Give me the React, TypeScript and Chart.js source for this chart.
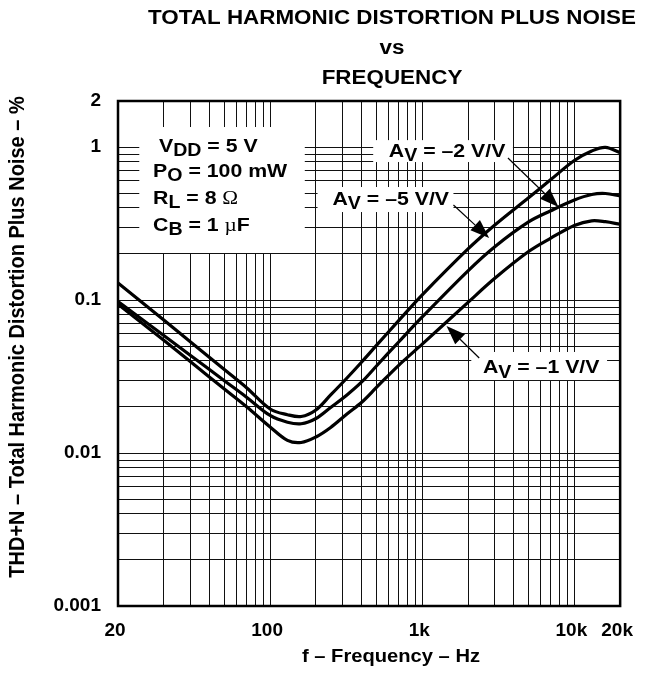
import { useEffect, useRef } from 'react';
import { Chart, registerables } from 'chart.js';

Chart.register(...registerables);

// ---- data ----
const frequencies = [10, 20, 30, 50, 70, 100, 130, 160, 200, 250, 320, 400, 500, 700, 1000, 2000, 3000, 5000, 7000, 10000, 13000, 16000, 20000];
const thdAvMinus5 = [0.1293, 0.074, 0.0532, 0.0351, 0.0267, 0.0194, 0.0178, 0.01733, 0.01912, 0.02396, 0.03094, 0.03936, 0.05053, 0.0733, 0.1081, 0.2157, 0.3094, 0.466, 0.6127, 0.8168, 0.9423, 0.9963, 0.9186];
const thdAvMinus2 = [0.0977, 0.05857, 0.04341, 0.02971, 0.02318, 0.0176, 0.0159, 0.01553, 0.01681, 0.01985, 0.02396, 0.02913, 0.03707, 0.0532, 0.0775, 0.1553, 0.2232, 0.3242, 0.3837, 0.4507, 0.4896, 0.497, 0.4787];
const thdAvMinus1 = [0.0938, 0.05458, 0.03948, 0.02621, 0.02006, 0.0148, 0.0121, 0.01172, 0.01273, 0.01469, 0.018, 0.02147, 0.02683, 0.03745, 0.05146, 0.09654, 0.1387, 0.2074, 0.2537, 0.3072, 0.3296, 0.3251, 0.3127];

// ---- axes ----
const xMin = 10;
const xMax = 20000;
const yMin = 0.001;
const yMax = 2;
const xTickValues = [10, 100, 1000, 10000, 20000];
const xTickLabels = ['20', '100', '1k', '10k', '20k'];
const yTickValues = [0.001, 0.01, 0.1, 1, 2];
const yTickLabels = ['0.001', '0.01', '0.1', '1', '2'];
const xGridDecades = [10, 100, 1000, 10000];
const yGridDecades = [0.001, 0.01, 0.1, 1];
const gridMultipliers = [1, 2, 3, 4, 5, 6, 7, 8, 9];

const titleLines = ['TOTAL HARMONIC DISTORTION PLUS NOISE', 'vs', 'FREQUENCY'];
const xAxisTitle = 'f – Frequency – Hz';
const yAxisTitle = 'THD+N – Total Harmonic Distortion Plus Noise – %';

// ---- annotations (anchored in data coordinates) ----
type Part = { t: string; sub?: boolean; serif?: boolean };
const conditionsBox = { x0: 13.8, x1: 169, y0: 1.352, y1: 0.203 };
const conditionLines: { x: number; y: number; parts: Part[] }[] = [
  { x: 18.6, y: 1.03, parts: [{ t: 'V' }, { t: 'DD', sub: true }, { t: ' = 5 V' }] },
  { x: 17.0, y: 0.708, parts: [{ t: 'P' }, { t: 'O', sub: true }, { t: ' = 100 mW' }] },
  { x: 17.0, y: 0.472, parts: [{ t: 'R' }, { t: 'L', sub: true }, { t: ' = 8 ' }, { t: 'Ω', serif: true }] },
  { x: 17.0, y: 0.314, parts: [{ t: 'C' }, { t: 'B', sub: true }, { t: ' = 1 ' }, { t: 'µ', serif: true }, { t: 'F' }] },
];
const gainLabels = [
  { gain: '–2', box: [476, 3945, 1.11, 0.798], text: [603, 0.957], from: [3660, 0.848], to: [7870, 0.406] },
  { gain: '–5', box: [205, 1604, 0.548, 0.376], text: [257, 0.4645], from: [1604, 0.418], to: [2753, 0.2543] },
  { gain: '–1', box: [2101, 16406, 0.04576, 0.03], text: [2504, 0.03667], from: [2369, 0.0418], to: [1444, 0.0677] },
];

const SANS = '"Liberation Sans", Arial, Helvetica, sans-serif';
const SERIF = '"Liberation Serif", "Times New Roman", serif';
const STRETCH = 1.12;

function buildGrid(decades: number[], max: number) {
  const out: number[] = [];
  decades.forEach((d) => gridMultipliers.forEach((m) => {
    const v = m * d;
    if (v <= max * 1.000001) out.push(v);
  }));
  if (!out.some((v) => Math.abs(v - max) / max < 1e-6)) out.push(max);
  return out;
}

function labelFor(v: number, values: number[], labels: string[]) {
  const i = values.findIndex((t) => Math.abs(v - t) / t < 1e-6);
  return i >= 0 ? labels[i] : '';
}

function drawRich(ctx: CanvasRenderingContext2D, parts: Part[], x: number, y: number, size: number) {
  ctx.save();
  ctx.translate(x, y);
  ctx.scale(STRETCH, 1);
  ctx.textAlign = 'left';
  ctx.textBaseline = 'alphabetic';
  ctx.fillStyle = '#000';
  let cx = 0;
  const base = size * 0.358;
  for (const p of parts) {
    const fs = p.sub ? size * 0.92 : size;
    ctx.font = p.serif ? `${size}px ${SERIF}` : `bold ${fs}px ${SANS}`;
    ctx.fillText(p.t, cx, base + (p.sub ? size * 0.24 : 0));
    cx += ctx.measureText(p.t).width;
  }
  ctx.restore();
}

function drawArrow(ctx: CanvasRenderingContext2D, x0: number, y0: number, x1: number, y1: number) {
  const ang = Math.atan2(y1 - y0, x1 - x0);
  const len = 19;
  const hw = 7;
  const bx = x1 - len * Math.cos(ang);
  const by = y1 - len * Math.sin(ang);
  ctx.save();
  ctx.strokeStyle = '#000';
  ctx.lineWidth = 1.2;
  ctx.beginPath();
  ctx.moveTo(x0, y0);
  ctx.lineTo(bx, by);
  ctx.stroke();
  ctx.fillStyle = '#000';
  ctx.beginPath();
  ctx.moveTo(x1, y1);
  ctx.lineTo(bx + hw * Math.sin(ang), by - hw * Math.cos(ang));
  ctx.lineTo(bx - hw * Math.sin(ang), by + hw * Math.cos(ang));
  ctx.closePath();
  ctx.fill();
  ctx.restore();
}

const decorPlugin = {
  id: 'decor',
  beforeDatasetsDraw(chart: any) {
    const ctx: CanvasRenderingContext2D = chart.ctx;
    const xs = chart.scales.x;
    const ys = chart.scales.y;
    const px = (v: number) => xs.getPixelForValue(v);
    const py = (v: number) => ys.getPixelForValue(v);
    ctx.save();
    ctx.fillStyle = '#fff';
    ctx.fillRect(px(conditionsBox.x0), py(conditionsBox.y0), px(conditionsBox.x1) - px(conditionsBox.x0), py(conditionsBox.y1) - py(conditionsBox.y0));
    gainLabels.forEach((g) => {
      ctx.fillRect(px(g.box[0]), py(g.box[2]), px(g.box[1]) - px(g.box[0]), py(g.box[3]) - py(g.box[2]));
    });
    ctx.restore();
    conditionLines.forEach((l) => drawRich(ctx, l.parts, px(l.x), py(l.y), 19));
    gainLabels.forEach((g) => {
      drawRich(ctx, [{ t: 'A' }, { t: 'V', sub: true }, { t: ` = ${g.gain} V/V` }], px(g.text[0]), py(g.text[1]), 19);
      drawArrow(ctx, px(g.from[0]), py(g.from[1]), px(g.to[0]), py(g.to[1]));
    });
  },
  afterDatasetsDraw(chart: any) {
    const ctx: CanvasRenderingContext2D = chart.ctx;
    const a = chart.chartArea;
    ctx.save();
    ctx.strokeStyle = '#000';
    ctx.lineWidth = 2.5;
    ctx.strokeRect(a.left, a.top, a.right - a.left, a.bottom - a.top);
    ctx.restore();
  },
  afterDraw(chart: any) {
    const ctx: CanvasRenderingContext2D = chart.ctx;
    ctx.save();
    ctx.fillStyle = '#000';
    ctx.textAlign = 'center';
    ctx.textBaseline = 'middle';
    const titleY = [18, 48, 78];
    titleLines.forEach((t, i) => {
      ctx.save();
      ctx.translate(392, titleY[i]);
      ctx.scale(STRETCH, 1);
      ctx.font = `bold 20px ${SANS}`;
      ctx.fillText(t, 0, 0);
      ctx.restore();
    });
    ctx.save();
    ctx.translate(391, 657);
    ctx.scale(STRETCH, 1);
    ctx.font = `bold 18px ${SANS}`;
    ctx.fillText(xAxisTitle, 0, 0);
    ctx.restore();
    ctx.save();
    ctx.translate(18, 337);
    ctx.scale(STRETCH, 1);
    ctx.rotate(-Math.PI / 2);
    ctx.font = `bold 20px ${SANS}`;
    ctx.fillText(yAxisTitle, 0, 0);
    ctx.restore();
    ctx.restore();
  },
};

export default function App() {
  const ref = useRef<HTMLCanvasElement | null>(null);
  useEffect(() => {
    if (!ref.current) return;
    const xGrid = buildGrid(xGridDecades, xMax);
    const yGrid = buildGrid(yGridDecades, yMax);
    const tickFont = { family: SANS, size: 19, weight: 'bold' as const };
    const mk = (vals: number[]) => frequencies.map((f, i) => ({ x: f, y: vals[i] }));
    const ds = (label: string, vals: number[]) => ({
      label,
      data: mk(vals),
      borderColor: '#000',
      borderWidth: 3.2,
      pointRadius: 0,
      fill: false,
      tension: 0.35,
      borderJoinStyle: 'round' as const,
      borderCapStyle: 'round' as const,
    });
    const chart = new Chart(ref.current, {
      type: 'line',
      data: {
        datasets: [
          ds('AV = –5 V/V', thdAvMinus5),
          ds('AV = –2 V/V', thdAvMinus2),
          ds('AV = –1 V/V', thdAvMinus1),
        ],
      },
      options: {
        responsive: false,
        animation: false,
        devicePixelRatio: 1,
        layout: { padding: { top: 101, right: 25, bottom: 0, left: 0 } },
        plugins: { legend: { display: false }, title: { display: false }, tooltip: { enabled: false } },
        scales: {
          x: {
            type: 'logarithmic',
            min: xMin,
            max: xMax,
            afterBuildTicks: (s: any) => { s.ticks = xGrid.map((v) => ({ value: v })); },
            afterFit: (s: any) => { s.height = 67; },
            grid: { color: '#111', lineWidth: 1, drawTicks: false },
            border: { display: false },
            ticks: {
              autoSkip: false,
              maxRotation: 0,
              padding: 13,
              labelOffset: -3,
              color: '#000',
              font: tickFont,
              callback: (v: any) => labelFor(Number(v), xTickValues, xTickLabels),
            },
          },
          y: {
            type: 'logarithmic',
            min: yMin,
            max: yMax,
            afterBuildTicks: (s: any) => { s.ticks = yGrid.map((v) => ({ value: v })); },
            afterFit: (s: any) => { s.width = 118; },
            grid: { color: '#111', lineWidth: 1, drawTicks: false },
            border: { display: false },
            ticks: {
              autoSkip: false,
              padding: 17,
              color: '#000',
              font: tickFont,
              callback: (v: any) => labelFor(Number(v), yTickValues, yTickLabels),
            },
          },
        },
      },
      plugins: [decorPlugin],
    } as any);
    return () => chart.destroy();
  }, []);
  return (
    <div style={{ position: 'absolute', left: 0, top: 0, width: 649, height: 673, background: '#fff' }}>
      <canvas ref={ref} width={649} height={673} style={{ display: 'block', width: 649, height: 673 }} />
    </div>
  );
}
